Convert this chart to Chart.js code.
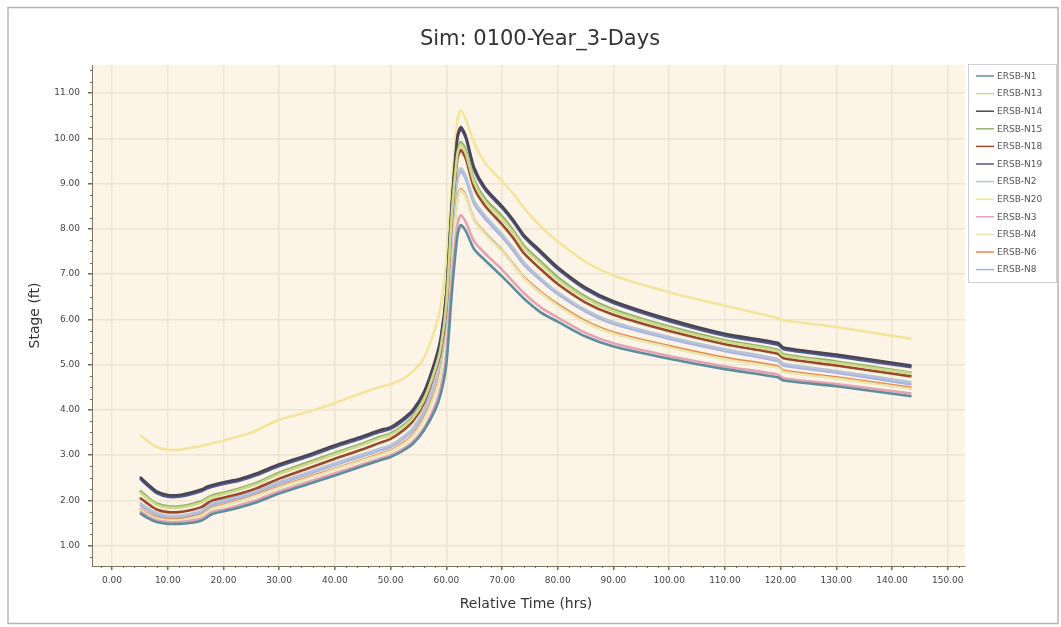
<!DOCTYPE html>
<html>
<head>
<meta charset="utf-8">
<script src="https://cdn.jsdelivr.net/npm/chart.js@4"></script>
<style>
  html, body { margin: 0; padding: 0; background: #ffffff; }
  #wrap { position: relative; width: 1061px; height: 627px; }
</style>
</head>
<body>
<div id="wrap"><canvas id="c" width="1061" height="627"></canvas></div>
<script>
// Relative time (hrs) of each stage sample
const hours = [5, 6.5, 8, 10, 12, 14, 16, 17, 18, 20, 23, 26, 30, 35, 40, 45, 48, 50, 52, 54, 56, 58, 59, 60, 61, 62, 62.6, 63.5, 65, 67, 70, 72, 74, 77, 80, 85, 90, 100, 110, 119.5, 120.5, 130, 143.5];

// Stage (ft) per node
const ersbN1  = [1.72, 1.60, 1.52, 1.48, 1.48, 1.50, 1.55, 1.62, 1.70, 1.76, 1.85, 1.96, 2.15, 2.35, 2.55, 2.76, 2.88, 2.96, 3.08, 3.25, 3.55, 4.00, 4.35, 5.00, 6.60, 7.85, 8.08, 7.95, 7.55, 7.30, 6.95, 6.70, 6.45, 6.15, 5.95, 5.62, 5.40, 5.13, 4.90, 4.72, 4.65, 4.52, 4.30];
const ersbN13 = [2.18, 2.03, 1.90, 1.84, 1.84, 1.88, 1.95, 2.02, 2.08, 2.14, 2.24, 2.36, 2.58, 2.80, 3.02, 3.23, 3.37, 3.45, 3.60, 3.82, 4.22, 4.90, 5.38, 6.35, 8.35, 9.67, 9.86, 9.67, 9.02, 8.60, 8.22, 7.92, 7.57, 7.22, 6.88, 6.46, 6.18, 5.81, 5.51, 5.30, 5.20, 5.04, 4.80];
const ersbN14 = [2.52, 2.35, 2.20, 2.12, 2.12, 2.17, 2.24, 2.30, 2.34, 2.40, 2.48, 2.60, 2.80, 3.00, 3.22, 3.42, 3.55, 3.62, 3.78, 4.00, 4.40, 5.10, 5.60, 6.60, 8.60, 10.05, 10.25, 10.05, 9.35, 8.90, 8.50, 8.20, 7.85, 7.50, 7.15, 6.70, 6.40, 6.00, 5.68, 5.48, 5.38, 5.22, 4.98];
const ersbN15 = [2.22, 2.06, 1.93, 1.87, 1.87, 1.91, 1.98, 2.05, 2.11, 2.17, 2.27, 2.39, 2.61, 2.83, 3.05, 3.26, 3.40, 3.48, 3.63, 3.86, 4.26, 4.94, 5.42, 6.40, 8.40, 9.74, 9.92, 9.74, 9.08, 8.66, 8.28, 7.97, 7.62, 7.27, 6.93, 6.50, 6.22, 5.84, 5.54, 5.33, 5.23, 5.07, 4.82];
const ersbN18 = [2.06, 1.92, 1.80, 1.74, 1.74, 1.78, 1.85, 1.93, 2.00, 2.06, 2.15, 2.27, 2.48, 2.70, 2.92, 3.13, 3.27, 3.36, 3.52, 3.75, 4.15, 4.85, 5.30, 6.25, 8.25, 9.55, 9.74, 9.55, 8.90, 8.50, 8.10, 7.80, 7.45, 7.10, 6.78, 6.37, 6.10, 5.74, 5.45, 5.24, 5.14, 4.98, 4.74];
const ersbN19 = [2.48, 2.31, 2.16, 2.08, 2.08, 2.13, 2.20, 2.26, 2.30, 2.36, 2.44, 2.56, 2.76, 2.96, 3.18, 3.38, 3.51, 3.58, 3.74, 3.96, 4.36, 5.05, 5.55, 6.55, 8.55, 10.00, 10.20, 10.00, 9.30, 8.86, 8.46, 8.16, 7.81, 7.46, 7.11, 6.66, 6.36, 5.96, 5.64, 5.44, 5.34, 5.18, 4.94];
const ersbN2  = [1.94, 1.82, 1.72, 1.66, 1.66, 1.70, 1.77, 1.86, 1.94, 2.00, 2.10, 2.22, 2.41, 2.61, 2.82, 3.02, 3.14, 3.22, 3.38, 3.60, 4.00, 4.65, 5.10, 6.00, 7.92, 9.16, 9.34, 9.16, 8.62, 8.28, 7.88, 7.58, 7.25, 6.90, 6.60, 6.21, 5.94, 5.61, 5.34, 5.12, 5.02, 4.86, 4.61];
const ersbN20 = [3.45, 3.30, 3.18, 3.12, 3.12, 3.16, 3.20, 3.23, 3.26, 3.32, 3.42, 3.55, 3.78, 3.95, 4.15, 4.38, 4.50, 4.57, 4.67, 4.85, 5.15, 5.80, 6.30, 7.30, 9.00, 10.40, 10.62, 10.42, 9.90, 9.45, 9.05, 8.78, 8.45, 8.05, 7.72, 7.27, 6.97, 6.60, 6.30, 6.03, 5.98, 5.83, 5.57];
const ersbN3  = [1.76, 1.64, 1.56, 1.52, 1.52, 1.55, 1.60, 1.67, 1.75, 1.80, 1.90, 2.01, 2.20, 2.40, 2.60, 2.80, 2.92, 3.00, 3.12, 3.30, 3.60, 4.10, 4.50, 5.20, 6.90, 8.10, 8.30, 8.15, 7.72, 7.45, 7.10, 6.83, 6.57, 6.26, 6.04, 5.70, 5.47, 5.19, 4.96, 4.78, 4.70, 4.57, 4.36];
const ersbN4  = [1.80, 1.68, 1.60, 1.56, 1.56, 1.60, 1.66, 1.74, 1.82, 1.88, 1.98, 2.10, 2.28, 2.48, 2.68, 2.88, 3.00, 3.08, 3.22, 3.42, 3.78, 4.35, 4.80, 5.60, 7.40, 8.65, 8.85, 8.70, 8.18, 7.88, 7.50, 7.20, 6.90, 6.57, 6.30, 5.93, 5.68, 5.38, 5.12, 4.93, 4.84, 4.69, 4.46];
const ersbN6  = [1.82, 1.70, 1.62, 1.58, 1.58, 1.62, 1.68, 1.76, 1.84, 1.90, 2.00, 2.12, 2.30, 2.50, 2.70, 2.90, 3.02, 3.10, 3.25, 3.45, 3.82, 4.40, 4.85, 5.65, 7.45, 8.68, 8.88, 8.72, 8.20, 7.90, 7.52, 7.22, 6.92, 6.60, 6.33, 5.96, 5.71, 5.41, 5.15, 4.96, 4.87, 4.72, 4.49];
const ersbN8  = [1.90, 1.78, 1.68, 1.63, 1.63, 1.67, 1.73, 1.82, 1.90, 1.96, 2.06, 2.18, 2.37, 2.57, 2.78, 2.98, 3.10, 3.18, 3.34, 3.55, 3.95, 4.60, 5.05, 5.95, 7.85, 9.10, 9.28, 9.10, 8.55, 8.22, 7.82, 7.52, 7.20, 6.86, 6.56, 6.17, 5.90, 5.57, 5.30, 5.08, 4.98, 4.82, 4.56];

const seriesNames = ['ERSB-N1', 'ERSB-N13', 'ERSB-N14', 'ERSB-N15', 'ERSB-N18', 'ERSB-N19', 'ERSB-N2', 'ERSB-N20', 'ERSB-N3', 'ERSB-N4', 'ERSB-N6', 'ERSB-N8'];
const seriesValues = [ersbN1, ersbN13, ersbN14, ersbN15, ersbN18, ersbN19, ersbN2, ersbN20, ersbN3, ersbN4, ersbN6, ersbN8];

// Axis tick values
const xTickValues = [0, 10, 20, 30, 40, 50, 60, 70, 80, 90, 100, 110, 120, 130, 140, 150];
const yTickValues = [1, 2, 3, 4, 5, 6, 7, 8, 9, 10, 11];

const titleText = 'Sim: 0100-Year_3-Days';
const xTitle = 'Relative Time (hrs)';
const yTitle = 'Stage (ft)';

// Line colours, same order as seriesNames
const seriesColors = ['#5f8d9d', '#cfd98c', '#4b4556', '#8fb46c', '#9a4a2a', '#4f5a8f', '#b7c4d8', '#f3e59c', '#e3a3b4', '#e8e7b4', '#e8894c', '#a8b3e3'];

const FONT = '"DejaVu Sans", Verdana, sans-serif';
const AREA = { left: 92, right: 965, top: 65, bottom: 566 };

const datasets = seriesNames.map((name, i) => ({
  label: name,
  data: hours.map((h, k) => ({ x: h, y: seriesValues[i][k] })),
  borderColor: seriesColors[i],
  backgroundColor: seriesColors[i],
  borderWidth: 2.6,
  pointRadius: 0,
  tension: 0.25,
  fill: false
}));

const decorPlugin = {
  id: 'decor',
  beforeDraw(chart) {
    const ctx = chart.ctx, a = chart.chartArea;
    ctx.save();
    ctx.fillStyle = '#ffffff';
    ctx.fillRect(0, 0, chart.width, chart.height);
    ctx.fillStyle = '#fcf5e7';
    ctx.fillRect(a.left, a.top, a.right - a.left, a.bottom - a.top);
    ctx.restore();
  },
  afterDraw(chart) {
    const ctx = chart.ctx, a = chart.chartArea;
    const xs = chart.scales.x, ys = chart.scales.y;
    ctx.save();
    // minor ticks
    ctx.strokeStyle = '#6f6856';
    ctx.lineWidth = 1;
    ctx.beginPath();
    for (let v = -2; v <= 152; v += 2) {
      if (v % 10 === 0) continue;
      const px = Math.round(xs.getPixelForValue(v)) + 0.5;
      ctx.moveTo(px, a.bottom); ctx.lineTo(px, a.bottom + 2);
    }
    for (let v = 0.75; v <= 11.5; v += 0.25) {
      if (Math.abs(v - Math.round(v)) < 1e-6) continue;
      const py = Math.round(ys.getPixelForValue(v)) + 0.5;
      ctx.moveTo(a.left, py); ctx.lineTo(a.left - 2, py);
    }
    ctx.stroke();

    // chart title
    ctx.fillStyle = '#333333';
    ctx.font = '21px ' + FONT;
    ctx.textAlign = 'center';
    ctx.textBaseline = 'middle';
    ctx.fillText(titleText, 540, 40);

    // axis titles
    ctx.font = '14px ' + FONT;
    ctx.fillText(xTitle, 526, 604);
    ctx.save();
    ctx.translate(35, (a.top + a.bottom) / 2);
    ctx.rotate(-Math.PI / 2);
    ctx.fillText(yTitle, 0, 0);
    ctx.restore();

    // legend
    const lx = 968.5, ly = 64.5, lw = 88, lh = 218;
    ctx.fillStyle = '#ffffff';
    ctx.fillRect(lx, ly, lw, lh);
    ctx.strokeStyle = '#cfcfcf';
    ctx.lineWidth = 1;
    ctx.strokeRect(lx, ly, lw, lh);
    ctx.font = '9px ' + FONT;
    ctx.textAlign = 'left';
    chart.data.datasets.forEach((ds, i) => {
      const y = 76 + i * 17.6;
      ctx.strokeStyle = ds.borderColor;
      ctx.lineWidth = 1.5;
      ctx.beginPath();
      ctx.moveTo(976, y); ctx.lineTo(994, y);
      ctx.stroke();
      ctx.fillStyle = '#555555';
      ctx.fillText(ds.label, 997, y + 0.5);
    });

    // outer panel frame
    ctx.strokeStyle = '#b4b4b4';
    ctx.lineWidth = 1.5;
    ctx.strokeRect(8, 7.5, 1050, 616);
    ctx.restore();
  }
};

new Chart(document.getElementById('c'), {
  type: 'line',
  data: { datasets },
  plugins: [decorPlugin],
  options: {
    responsive: false,
    animation: false,
    devicePixelRatio: 1,
    layout: { padding: { top: AREA.top, right: 1061 - AREA.right, bottom: 0, left: 0 } },
    plugins: { legend: { display: false }, tooltip: { enabled: false }, title: { display: false } },
    scales: {
      x: {
        type: 'linear',
        min: -3.6,
        max: 153.1,
        afterFit(s) { s.height = 627 - AREA.bottom; },
        afterBuildTicks(s) { s.ticks = xTickValues.map(v => ({ value: v })); },
        grid: { color: '#ede4d2', lineWidth: 1.5, tickColor: '#6f6856', tickLength: 4 },
        border: { color: '#7d7560', width: 1 },
        ticks: {
          color: '#444444', font: { family: FONT, size: 9 }, padding: 5, maxRotation: 0, autoSkip: false,
          callback: v => Number(v).toFixed(2)
        }
      },
      y: {
        type: 'linear',
        min: 0.55,
        max: 11.62,
        afterFit(s) { s.width = AREA.left; },
        afterBuildTicks(s) { s.ticks = yTickValues.map(v => ({ value: v })); },
        grid: { color: '#ede4d2', lineWidth: 1.5, tickColor: '#6f6856', tickLength: 4 },
        border: { color: '#7d7560', width: 1 },
        ticks: {
          color: '#444444', font: { family: FONT, size: 9 }, padding: 8, autoSkip: false,
          callback: v => Number(v).toFixed(2)
        }
      }
    }
  }
});
</script>
</body>
</html>
